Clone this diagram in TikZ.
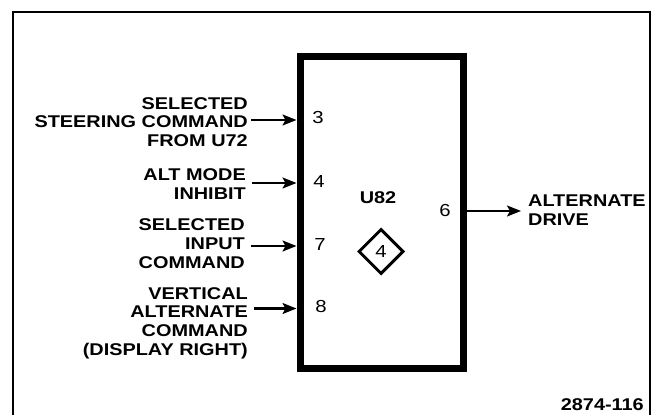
\documentclass[tikz,border=0pt]{standalone}
\usepackage{fontspec}
\setmainfont{Liberation Sans}[FakeStretch=1.17]
\usetikzlibrary{arrows.meta,shapes.geometric}
\begin{document}
\begin{tikzpicture}[x=1pt,y=-1pt,
  lab/.style={font=\fontsize{17}{18.7}\selectfont\bfseries, align=right, inner sep=0pt, anchor=east},
  pin/.style={font=\fontsize{17.4}{18.7}\selectfont, inner sep=0pt},
  sig/.style={line width=2.2pt, -{Stealth[length=14pt,width=11pt,inset=3pt]}}]
\useasboundingbox (0,0) rectangle (657,415);
% frame
\draw[line width=2pt] (12.7,415) -- (12.7,11.7) -- (650,11.7) -- (650,415);
% block
\node[draw, line width=7pt, minimum width=163pt, minimum height=312pt, inner sep=0pt] (u82) at (381.5,212.5) {};
% pin points
\coordinate (p3) at (u82.west |- 0,120);
\coordinate (p4) at (u82.west |- 0,183);
\coordinate (p7) at (u82.west |- 0,246);
\coordinate (p8) at (u82.west |- 0,308.5);
\coordinate (p6) at (u82.east |- 0,211);
\coordinate (s3) at (251,120);
\coordinate (s4) at (252,183);
\coordinate (s7) at (251,246);
\coordinate (s8) at (254,308.5);
\coordinate (o6) at (521,211);
% labels
\node[lab] (l3) at (248,122) {SELECTED\\STEERING COMMAND\\FROM U72};
\node[lab] (l4) at (246,184) {ALT MODE\\INHIBIT};
\node[lab] (l7) at (245,243.5) {SELECTED\\INPUT\\COMMAND};
\node[lab] (l8) at (248,323) {VERTICAL\\ALTERNATE\\COMMAND\\(DISPLAY RIGHT)};
\node[lab, anchor=west, align=left] (l6) at (528,210.5) {ALTERNATE\\DRIVE};
% arrows
\draw[sig] (s3) -- (p3);
\draw[sig] (s4) -- (p4);
\draw[sig] (s7) -- (p7);
\draw[sig] (s8) -- (p8);
\draw[sig] (p6) -- (o6);
% pin numbers
\node[pin] (n3) at (318,118) {3};
\node[pin] (n4) at (319,182) {4};
\node[pin] (n7) at (320,245) {7};
\node[pin] (n8) at (321,307) {8};
\node[pin] (n6) at (445,211) {6};
\node[lab, anchor=center] (name) at (378,198) {U82};
\node[draw, line width=3pt, shape=diamond, minimum size=45pt, inner sep=0pt] (dia) at (381,251.5) {};
\node[pin] (dn) at (dia.center) {4};
\node[lab, anchor=east] (fig) at (644,405) {2874-116};
\end{tikzpicture}
\end{document}
